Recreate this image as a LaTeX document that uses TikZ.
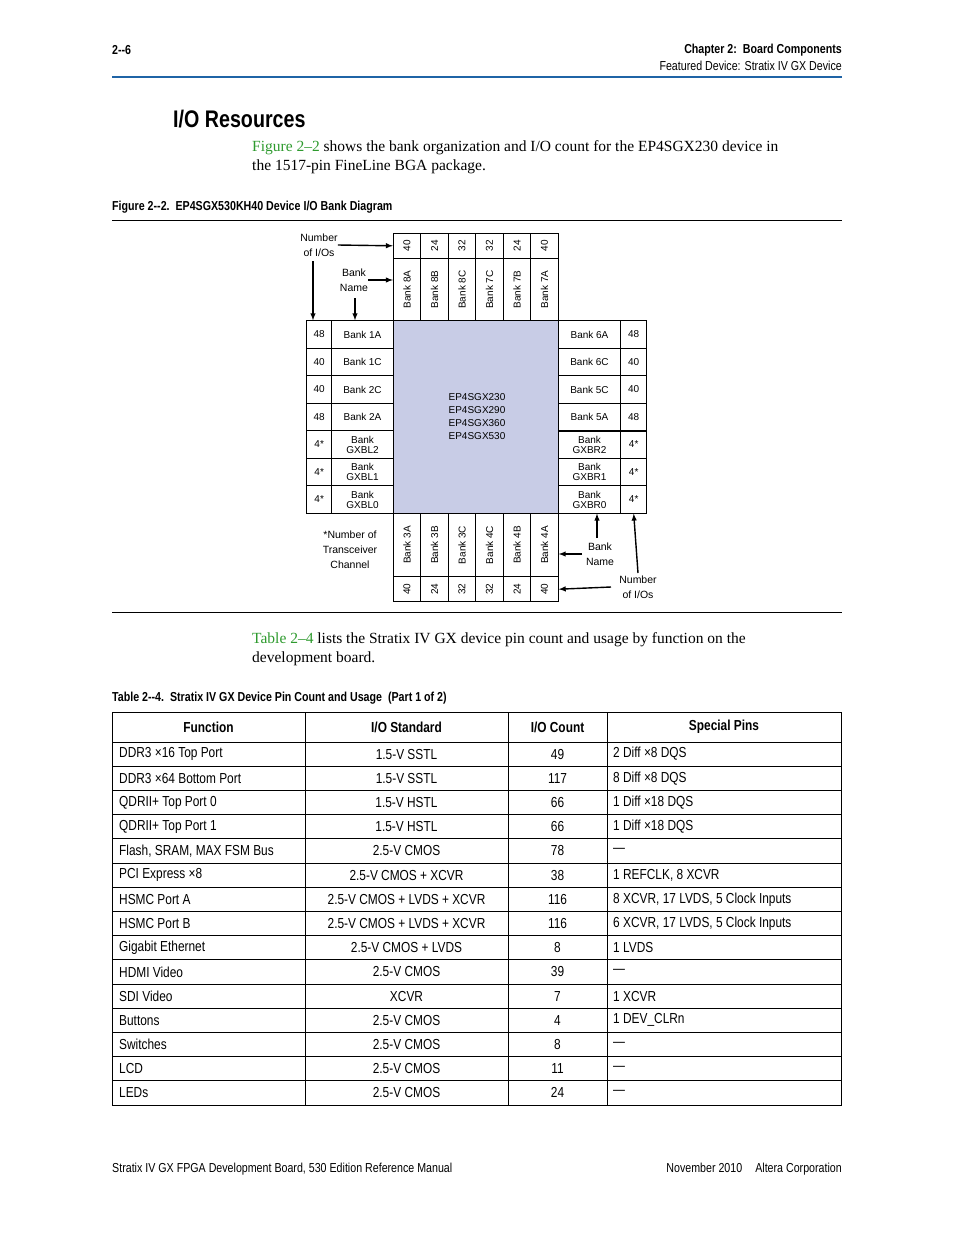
\documentclass[tikz,border=0pt]{standalone}
\usepackage{fontspec}
\setmainfont{Liberation Serif}
\newfontfamily\helv{Liberation Sans}
\newfontfamily\cond[FakeStretch=0.82]{Liberation Sans}
\usetikzlibrary{arrows, positioning}
\definecolor{linkgreen}{HTML}{2E9A2E}
\definecolor{ruleblue}{HTML}{1F64A6}
\definecolor{chipfill}{HTML}{C8CCE6}

\tikzset{
  cell/.style={draw, line width=0.8pt, inner sep=0pt, align=center,
    font=\helv\fontsize{10}{10}\selectfont},
  vcell/.style={cell, rotate=90},
  note/.style={inner sep=0pt, align=center, font=\helv\fontsize{10.5}{15}\selectfont},
  pointer/.style={-latex, line width=1.4pt},
  head/.style={inner sep=0pt, font=\cond\bfseries\fontsize{13}{16}\selectfont},
  body/.style={inner sep=0pt, align=left, font=\fontsize{15.5}{19.5}\selectfont},
  tab/.style={inner sep=0pt, font=\cond\fontsize{14.5}{16}\selectfont},
  grid/.style={line width=0.8pt}
}

\begin{document}
\begin{tikzpicture}[x=1pt, y=-1pt]
  \useasboundingbox (0,0) rectangle (954,1235);

  % page head
  \node[head, anchor=west] (pageno) at (112,50) {2--6};
  \node[head, anchor=east] (chap) at (842,50) {Chapter 2:\ \ Board Components};
  \node[head, anchor=east, font=\cond\fontsize{13}{16}\selectfont] (sect) at (842,66) {Featured Device: Stratix IV GX Device};
  \draw[ruleblue, line width=2pt] (112,77) -- (842,77);

  \node[head, anchor=west, font=\cond\bfseries\fontsize{24}{28}\selectfont] (title) at (173,119) {I/O Resources};
  \node[body, anchor=north west] (para1) at (252,140)
    {\textcolor{linkgreen}{Figure 2--2} shows the bank organization and I/O count for the EP4SGX230 device in\\
     the 1517-pin FineLine BGA package.};

  \node[head, anchor=west] (figcap) at (112,207) {Figure 2--2.\ \ EP4SGX530KH40 Device I/O Bank Diagram};
  \draw[line width=0.6pt] (112,220) -- (842,220);

  % device core
  \draw[fill=chipfill, line width=0.8pt] (393.3,320.7) rectangle (558.3,513.2);
  \node[note, font=\helv\fontsize{10}{13}\selectfont] (core) at (477,417)
    {EP4SGX230\\EP4SGX290\\EP4SGX360\\EP4SGX530};

  % top and bottom banks
  \foreach \tn/\tb/\bb/\bn [count=\i] in {40/8A/3A/40, 24/8B/3B/24, 32/8C/3C/32,
                                          32/7C/4C/32, 24/7B/4B/24, 40/7A/4A/40}{
    \pgfmathsetmacro\cx{393.3+(\i-0.5)*27.5}
    \node[vcell, minimum width=25pt, minimum height=27.5pt] (tn\i) at (\cx,245.8) {\tn};
    \node[vcell, minimum width=62.4pt, minimum height=27.5pt] (tb\i) at (\cx,289.5) {Bank \tb};
    \node[vcell, minimum width=63.5pt, minimum height=27.5pt] (bb\i) at (\cx,545) {Bank \bb};
    \node[vcell, minimum width=25pt, minimum height=27.5pt] (bn\i) at (\cx,589.2) {\bn};
  }

  % left and right banks
  \foreach \ln/\lb/\rb/\rn [count=\i] in {48/Bank 1A/Bank 6A/48, 40/Bank 1C/Bank 6C/40,
      40/Bank 2C/Bank 5C/40, 48/Bank 2A/Bank 5A/48, 4*/Bank\\GXBL2/Bank\\GXBR2/4*,
      4*/Bank\\GXBL1/Bank\\GXBR1/4*, 4*/Bank\\GXBL0/Bank\\GXBR0/4*}{
    \pgfmathsetmacro\cy{320.7+(\i-0.5)*27.5}
    \node[cell, minimum width=25pt, minimum height=27.5pt] (ln\i) at (319.2,\cy) {\ln};
    \node[cell, minimum width=61.6pt, minimum height=27.5pt] (lb\i) at (362.5,\cy) {\lb};
    \node[cell, minimum width=62.4pt, minimum height=27.5pt] (rb\i) at (589.5,\cy) {\rb};
    \node[cell, minimum width=26pt, minimum height=27.5pt] (rn\i) at (633.7,\cy) {\rn};
  }
  \draw[line width=1.6pt] (rb4.south west) -- (rn4.south east);

  % legends
  \node[note] (numtl) at (319,245) {Number\\of I/Os};
  \node[note] (nametl) at (354,280) {Bank\\Name};
  \draw[pointer] (numtl.east |- 0,245) -- (tn1.north);
  \draw[pointer] (313,261) -- (ln1.north -| 313,0);
  \draw[pointer] (nametl.east |- 0,280) -- (tb1.north |- 0,280);
  \draw[pointer] (355,298) -- (lb1.north -| 355,0);

  \node[note] (xcvr) at (350,550) {*Number of\\Transceiver\\Channel};

  \node[note] (namebr) at (600,554) {Bank\\Name};
  \node[note] (numbr) at (638,587) {Number\\of I/Os};
  \draw[pointer] (582,554) -- (bb6.south |- 0,554);
  \draw[pointer] (597,538) -- (rb7.south -| 597,0);
  \draw[pointer] (611,587) -- (bn6.south);
  \draw[pointer] (638,573) -- (rn7.south);

  \draw[line width=0.6pt] (112,612) -- (842,612);

  \node[body, anchor=north west] (para2) at (252,632)
    {\textcolor{linkgreen}{Table 2--4} lists the Stratix IV GX device pin count and usage by function on the\\
     development board.};

  \node[head, anchor=west] (tabcap) at (112,698) {Table 2--4.\ \ Stratix IV GX Device Pin Count and Usage\ \ (Part 1 of 2)};

  % table
  \node[tab, font=\cond\bfseries\fontsize{14.5}{16}\selectfont] (hfun) at (208.5,727) {Function};
  \node[tab, font=\cond\bfseries\fontsize{14.5}{16}\selectfont] (hstd) at (406.5,727) {I/O Standard};
  \node[tab, font=\cond\bfseries\fontsize{14.5}{16}\selectfont] (hcnt) at (557.5,727) {I/O Count};
  \node[tab, font=\cond\bfseries\fontsize{14.5}{16}\selectfont] (hpin) at (724,727) {Special Pins};
  \foreach \f/\s/\c/\p [count=\r] in {
      DDR3 ×16 Top Port/1.5-V SSTL/49/2 Diff ×8 DQS,
      DDR3 ×64 Bottom Port/1.5-V SSTL/117/8 Diff ×8 DQS,
      QDRII+ Top Port 0/1.5-V HSTL/66/1 Diff ×18 DQS,
      QDRII+ Top Port 1/1.5-V HSTL/66/1 Diff ×18 DQS,
      {Flash, SRAM, MAX FSM Bus}/2.5-V CMOS/78/—,
      PCI Express ×8/2.5-V CMOS + XCVR/38/{1 REFCLK, 8 XCVR},
      HSMC Port A/2.5-V CMOS + LVDS + XCVR/116/{8 XCVR, 17 LVDS, 5 Clock Inputs},
      HSMC Port B/2.5-V CMOS + LVDS + XCVR/116/{6 XCVR, 17 LVDS, 5 Clock Inputs},
      Gigabit Ethernet/2.5-V CMOS + LVDS/8/1 LVDS,
      HDMI Video/2.5-V CMOS/39/—,
      SDI Video/XCVR/7/1 XCVR,
      Buttons/2.5-V CMOS/4/1 DEV\_CLRn,
      Switches/2.5-V CMOS/8/—,
      LCD/2.5-V CMOS/11/—,
      LEDs/2.5-V CMOS/24/—}{
    \pgfmathsetmacro\ry{742+(\r-0.5)*24.2}
    \node[tab, anchor=west] (fun\r) at (119,\ry) {\f};
    \node[tab] (std\r) at (406.5,\ry) {\s};
    \node[tab] (cnt\r) at (557.5,\ry) {\c};
    \node[tab, anchor=west] (pin\r) at (613,\ry) {\p};
    \draw[grid] (112,742+\r*24.2) -- (841,742+\r*24.2);
  }
  \draw[grid] (112,712) rectangle (841,1105);
  \draw[grid] (112,742) -- (841,742);
  \foreach \vx in {305,508,607}
    \draw[grid] (\vx,712) -- (\vx,1105);

  % page foot
  \node[tab, anchor=west, font=\cond\fontsize{13}{16}\selectfont] (footl) at (112,1169) {Stratix IV GX FPGA Development Board, 530 Edition Reference Manual};
  \node[tab, anchor=east, font=\cond\fontsize{13}{16}\selectfont] (footr) at (842,1169) {November 2010\quad Altera Corporation};
\end{tikzpicture}
\end{document}
